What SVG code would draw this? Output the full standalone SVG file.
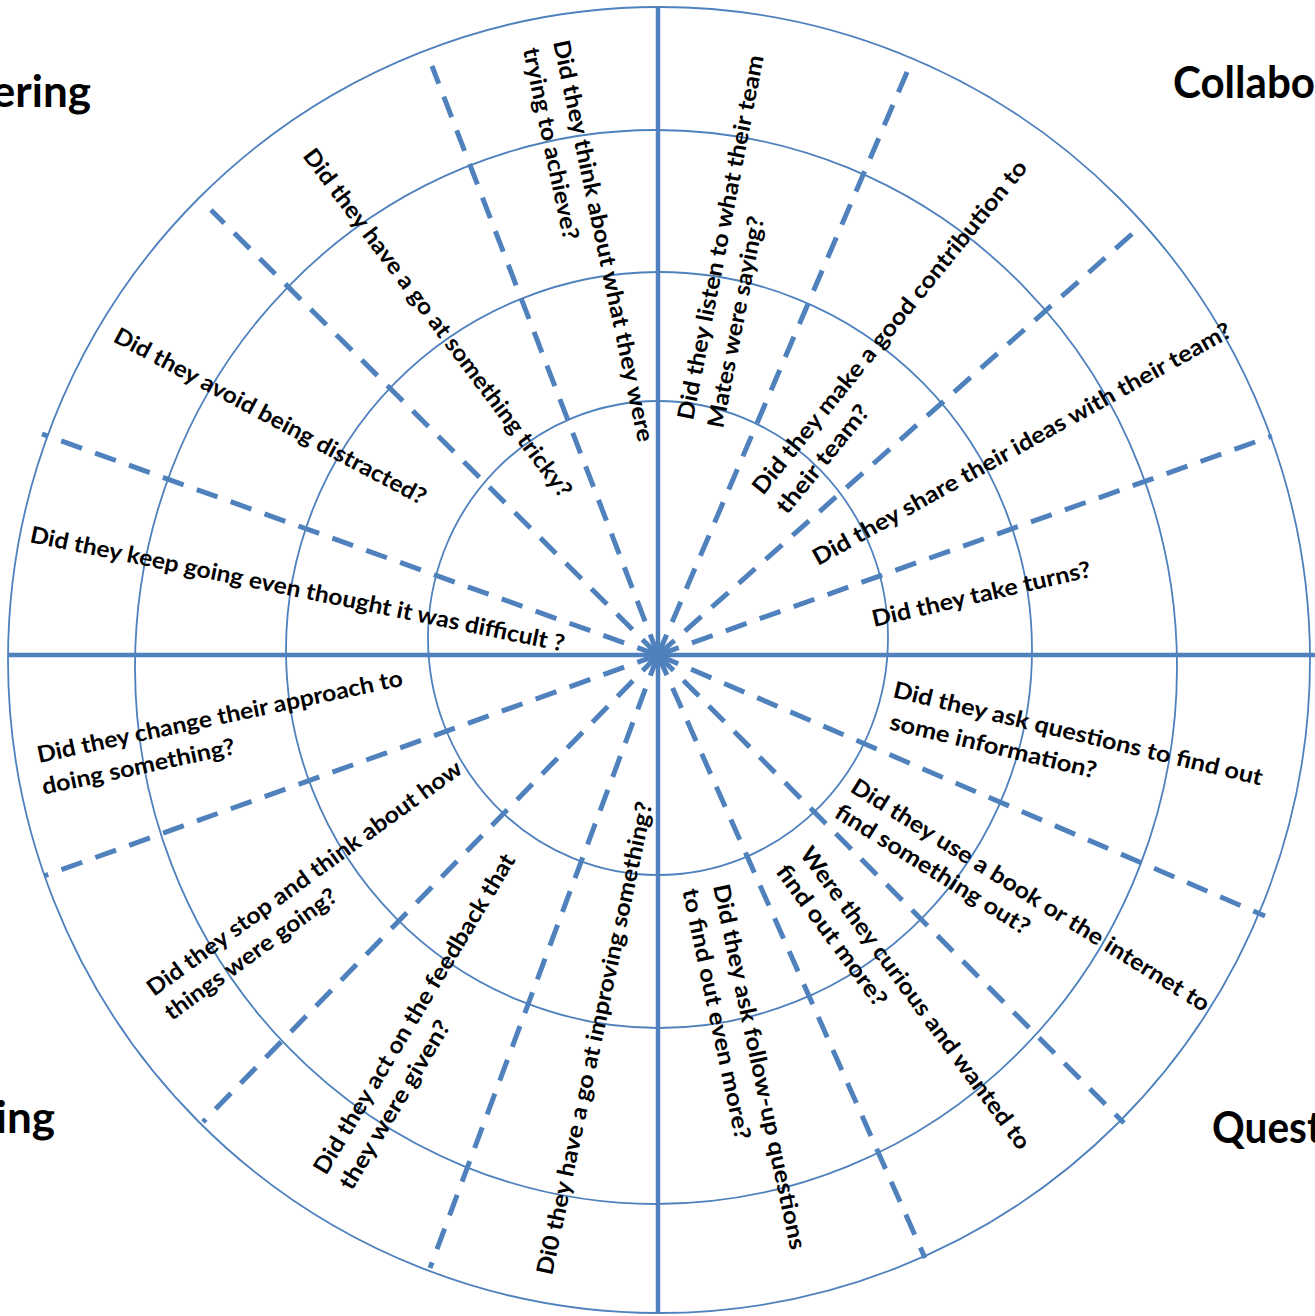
<svg xmlns="http://www.w3.org/2000/svg" width="1315" height="1316" viewBox="0 0 1315 1316">
<style>
.ring{fill:none;stroke:#4F81BD;stroke-width:1.8}
.axis{stroke:#4F81BD;stroke-width:4.5}
.dash{stroke:#4F81BD;stroke-width:5;stroke-dasharray:22 14;fill:none}
.q{font-family:Lato,"Liberation Sans",sans-serif;font-weight:bold;font-size:23px;fill:#000}
.h{font-family:Lato,"Liberation Sans",sans-serif;font-weight:bold;font-size:44px;fill:#000}
</style>
<rect width="1315" height="1316" fill="#fff"/>
<g id="rings">
<ellipse class="ring" cx="659" cy="660" rx="651" ry="653"/>
<ellipse class="ring" cx="656" cy="667" rx="521" ry="537"/>
<ellipse class="ring" cx="659" cy="650" rx="373" ry="378"/>
<ellipse class="ring" cx="658" cy="638" rx="230" ry="237"/>
</g>
<g id="connectors">
<line class="axis" x1="8" y1="655" x2="1315" y2="655"/>
<line class="axis" x1="658" y1="7" x2="658" y2="1313"/>
<line class="dash" x1="658" y1="655" x2="432" y2="66"/>
<line class="dash" x1="658" y1="655" x2="211" y2="210"/>
<line class="dash" x1="658" y1="655" x2="42" y2="434"/>
<line class="dash" x1="658" y1="655" x2="913" y2="58"/>
<line class="dash" x1="658" y1="655" x2="1132" y2="234"/>
<line class="dash" x1="658" y1="655" x2="1272" y2="436"/>
<line class="dash" x1="658" y1="655" x2="1265" y2="916"/>
<line class="dash" x1="658" y1="655" x2="1124" y2="1123"/>
<line class="dash" x1="658" y1="655" x2="925" y2="1258"/>
<line class="dash" x1="658" y1="655" x2="44" y2="876"/>
<line class="dash" x1="658" y1="655" x2="203" y2="1122"/>
<line class="dash" x1="658" y1="655" x2="430" y2="1268"/>
</g>
<g id="headings">
<text class="h" x="91" y="107" text-anchor="end">ering</text>
<text class="h" x="1173" y="98" textLength="142" lengthAdjust="spacingAndGlyphs">Collabo</text>
<text class="h" x="55" y="1133" text-anchor="end">ing</text>
<text class="h" x="1212" y="1143" textLength="110" lengthAdjust="spacingAndGlyphs">Quest</text>
</g>
<g id="q-think" transform="translate(553,42) rotate(78)">
<text class="q" x="0" y="0" textLength="410" lengthAdjust="spacingAndGlyphs">Did they think about what  they were</text>
<text class="q" x="1" y="31" textLength="196" lengthAdjust="spacingAndGlyphs">trying to achieve?</text>
</g>
<g id="q-tricky" transform="translate(302,156) rotate(53)">
<text class="q" x="0" y="0" textLength="430" lengthAdjust="spacingAndGlyphs">Did they have a go at something tricky?</text>
</g>
<g id="q-distracted" transform="translate(112,341) rotate(28)">
<text class="q" x="0" y="0" textLength="350" lengthAdjust="spacingAndGlyphs">Did they avoid being distracted?</text>
</g>
<g id="q-keepgoing" transform="translate(29,542) rotate(11.6)">
<text class="q" x="0" y="0" textLength="545" lengthAdjust="spacingAndGlyphs">Did they keep going even thought it was difficult ?</text>
</g>
<g id="q-listen" transform="translate(693,421) rotate(-79)">
<text class="q" x="0" y="0" textLength="371" lengthAdjust="spacingAndGlyphs">Did they listen to what their team</text>
<text class="q" x="-2" y="31" textLength="215" lengthAdjust="spacingAndGlyphs">Mates were saying?</text>
</g>
<g id="q-contribution" transform="translate(763,496) rotate(-51)">
<text class="q" x="0" y="0" textLength="422" lengthAdjust="spacingAndGlyphs">Did they  make a good contribution to</text>
<text class="q" x="0" y="31" textLength="133" lengthAdjust="spacingAndGlyphs">their team?</text>
</g>
<g id="q-share" transform="translate(818,566) rotate(-29)">
<text class="q" x="0" y="0" textLength="475" lengthAdjust="spacingAndGlyphs">Did they share their ideas with their team?</text>
</g>
<g id="q-turns" transform="translate(874,627) rotate(-13)">
<text class="q" x="0" y="0" textLength="224" lengthAdjust="spacingAndGlyphs">Did they take turns?</text>
</g>
<g id="q-ask" transform="translate(892,697) rotate(13.5)">
<text class="q" x="0" y="0" textLength="379" lengthAdjust="spacingAndGlyphs">Did they ask  questions to find out</text>
<text class="q" x="4" y="32" textLength="212" lengthAdjust="spacingAndGlyphs">some information?</text>
</g>
<g id="q-book" transform="translate(849,791) rotate(32)">
<text class="q" x="0" y="0" textLength="418" lengthAdjust="spacingAndGlyphs">Did they use a book or the internet to</text>
<text class="q" x="0" y="30" textLength="225" lengthAdjust="spacingAndGlyphs">find something out?</text>
</g>
<g id="q-curious" transform="translate(799,854) rotate(53.5)">
<text class="q" x="0" y="0" textLength="370" lengthAdjust="spacingAndGlyphs">Were they curious and wanted to</text>
<text class="q" x="0" y="30" textLength="170" lengthAdjust="spacingAndGlyphs">find out more?</text>
</g>
<g id="q-followup" transform="translate(713,886) rotate(78)">
<text class="q" x="0" y="0" textLength="373" lengthAdjust="spacingAndGlyphs">Did they  ask  follow-up questions</text>
<text class="q" x="-2" y="31" textLength="256" lengthAdjust="spacingAndGlyphs">to find out even more?</text>
</g>
<g id="q-improving" transform="translate(552,1276) rotate(-78)">
<text class="q" x="0" y="0" textLength="483" lengthAdjust="spacingAndGlyphs">Di0 they have a go at improving something?</text>
</g>
<g id="q-feedback" transform="translate(326,1176) rotate(-59)">
<text class="q" x="0" y="0" textLength="369" lengthAdjust="spacingAndGlyphs">Did they act on the feedback that</text>
<text class="q" x="0" y="30" textLength="193" lengthAdjust="spacingAndGlyphs">they were given?</text>
</g>
<g id="q-stop" transform="translate(154,997) rotate(-36)">
<text class="q" x="0" y="0" textLength="383" lengthAdjust="spacingAndGlyphs">Did they stop and think about how</text>
<text class="q" x="0" y="30" textLength="207" lengthAdjust="spacingAndGlyphs">things were going?</text>
</g>
<g id="q-approach" transform="translate(39,763) rotate(-12)">
<text class="q" x="0" y="0" textLength="373" lengthAdjust="spacingAndGlyphs">Did they change their approach to</text>
<text class="q" x="-2" y="32" textLength="197" lengthAdjust="spacingAndGlyphs">doing something?</text>
</g>
</svg>
